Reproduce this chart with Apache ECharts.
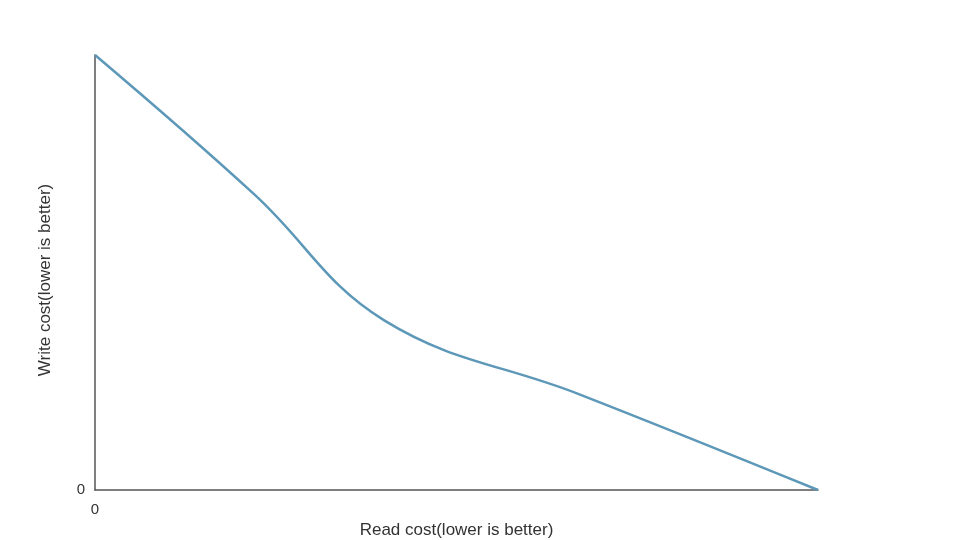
<!DOCTYPE html>
<html>
<head>
<meta charset="utf-8">
<script src="https://cdn.jsdelivr.net/npm/echarts@6/dist/echarts.min.js"></script>
<style>
  html, body { margin: 0; padding: 0; background: #fff; }
  #chart { width: 960px; height: 540px; }
</style>
</head>
<body>
<div id="chart"></div>
<script>
// read cost (x) vs write cost (y), relative units 0..100
const readCost = [0, 22, 40, 67, 100];
const writeCost = [100, 68, 39, 22, 0];

const points = readCost.map((x, i) => [x, writeCost[i]]);

const chart = echarts.init(document.getElementById('chart'));
chart.setOption({
  animation: false,
  grid: {
    left: 95,
    right: 142,
    top: 55,
    bottom: 50,
    outerBoundsMode: 'none',
  },
  xAxis: {
    type: 'value',
    min: 0,
    max: 100,
    name: 'Read cost(lower is better)',
    nameLocation: 'middle',
    nameGap: 28,
    nameTextStyle: { color: '#333', fontSize: 17, fontFamily: 'Liberation Sans' },
    axisLine: { show: true, lineStyle: { color: '#555', width: 1.5 } },
    axisTick: { show: false },
    splitLine: { show: false },
    axisLabel: {
      color: '#333',
      fontSize: 15,
      fontFamily: 'Liberation Sans',
      margin: 12,
      formatter: (v) => (v === 0 ? '0' : ''),
    },
  },
  yAxis: {
    type: 'value',
    min: 0,
    max: 100,
    name: 'Write cost(lower is better)',
    nameLocation: 'middle',
    nameGap: 41,
    nameTextStyle: {
      color: '#333',
      fontSize: 17,
      fontFamily: 'Liberation Sans',
      padding: [0, 15, 0, 0],
    },
    axisLine: { show: true, lineStyle: { color: '#555', width: 1.5 } },
    axisTick: { show: false },
    splitLine: { show: false },
    axisLabel: {
      color: '#333',
      fontSize: 15,
      fontFamily: 'Liberation Sans',
      margin: 10,
      formatter: (v) => (v === 0 ? '0' : ''),
    },
  },
  series: [
    {
      type: 'line',
      data: points,
      smooth: 0.4,
      showSymbol: false,
      lineStyle: { color: '#5d98b8', width: 2.5 },
    },
  ],
});
</script>
</body>
</html>
